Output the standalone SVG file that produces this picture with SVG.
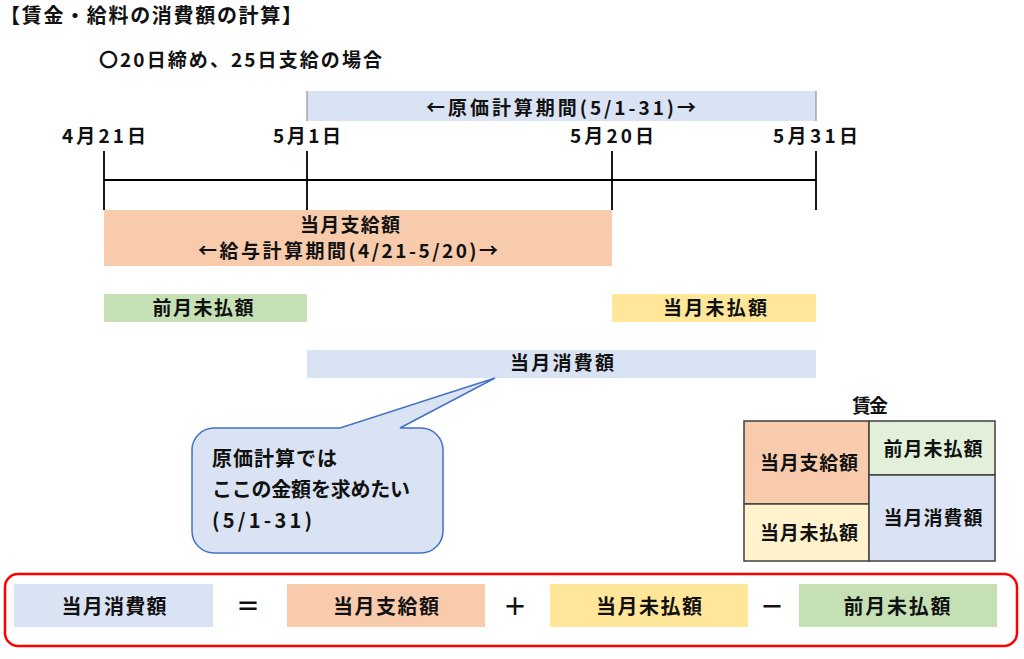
<svg xmlns="http://www.w3.org/2000/svg" width="1024" height="659" viewBox="0 0 1024 659">
<style>
text{font-family:"Noto Sans CJK JP","Noto Sans",sans-serif;font-weight:bold;fill:#111;font-size:19px}
.m{text-anchor:middle}
.blue{fill:#dae3f3}
.orange{fill:#f8cbad}
.green{fill:#c5e0b4}
.yellow{fill:#ffe699}
.cell{stroke:#404040;stroke-width:1.5}
.tl{stroke:#000;stroke-width:1.8;fill:none}
.big{font-size:20px}
.op{font-size:24px}
</style>
<rect width="1024" height="659" fill="#fff"/>
<g id="title">
<text x="0" y="23" class="big" textLength="302" lengthAdjust="spacing">【賃金・給料の消費額の計算】</text>
<text x="99" y="67" textLength="283" lengthAdjust="spacing">〇20日締め、25日支給の場合</text>
</g>
<g id="cost-period">
<rect x="307" y="91" width="509" height="30" class="blue"/>
<line x1="307" y1="91" x2="307" y2="121" stroke="#808080" stroke-width="1"/>
<line x1="816" y1="91" x2="816" y2="121" stroke="#808080" stroke-width="1"/>
<text x="561" y="115" class="m" textLength="270" lengthAdjust="spacing">←原価計算期間(5/1-31)→</text>
</g>
<g id="dates">
<text x="62" y="143" textLength="84" lengthAdjust="spacing">4月21日</text>
<text x="273" y="143" textLength="68" lengthAdjust="spacing">5月1日</text>
<text x="570" y="143" textLength="84" lengthAdjust="spacing">5月20日</text>
<text x="773" y="143" textLength="85" lengthAdjust="spacing">5月31日</text>
</g>
<g id="connectors">
<line class="tl" x1="104" y1="180" x2="816" y2="180"/>
<line class="tl" x1="104" y1="151" x2="104" y2="210"/>
<line class="tl" x1="307" y1="151" x2="307" y2="210"/>
<line class="tl" x1="612" y1="151" x2="612" y2="210"/>
<line class="tl" x1="816" y1="151" x2="816" y2="210"/>
</g>
<g id="pay-amount">
<rect x="104" y="210" width="508" height="56" class="orange"/>
<text x="350" y="232" class="m" textLength="100" lengthAdjust="spacing">当月支給額</text>
<text x="348" y="258" class="m" textLength="300" lengthAdjust="spacing">←給与計算期間(4/21-5/20)→</text>
</g>
<g id="prev-unpaid">
<rect x="104" y="294" width="203" height="28" class="green"/>
<text x="203" y="315" class="m" textLength="101" lengthAdjust="spacing">前月未払額</text>
</g>
<g id="curr-unpaid">
<rect x="612" y="294" width="204" height="28" class="yellow"/>
<text x="715" y="315" class="m" textLength="104" lengthAdjust="spacing">当月未払額</text>
</g>
<g id="consumption">
<rect x="307" y="350" width="509" height="28" class="blue"/>
<text x="562" y="370" class="m" textLength="104" lengthAdjust="spacing">当月消費額</text>
</g>
<g id="callout">
<path d="M214,428 L340,428 L495,378 L400,428 L421,428 A22,22 0 0 1 443,450 L443,531 A22,22 0 0 1 421,553 L214,553 A22,22 0 0 1 192,531 L192,450 A22,22 0 0 1 214,428 Z" fill="#dae3f3" stroke="#4472c4" stroke-width="1.5" stroke-linejoin="miter"/>
<text x="212" y="466" class="big" textLength="125" lengthAdjust="spacing">原価計算では</text>
<text x="212" y="497" class="big" textLength="198" lengthAdjust="spacing">ここの金額を求めたい</text>
<text x="212" y="528" class="big" textLength="100" lengthAdjust="spacing">(5/1-31)</text>
</g>
<g id="wage-account">
<text x="870" y="413" class="m" textLength="36" lengthAdjust="spacing">賃金</text>
<rect x="744" y="421" width="125" height="83" class="cell" fill="#f8cbad"/>
<rect x="744" y="504" width="125" height="57" class="cell" fill="#fff2cc"/>
<rect x="869" y="421" width="126" height="54" class="cell" fill="#e2f0d9"/>
<rect x="869" y="475" width="126" height="86" class="cell" fill="#dae3f3"/>
<text x="809" y="470" class="m" textLength="98" lengthAdjust="spacing">当月支給額</text>
<text x="809" y="540" class="m" textLength="98" lengthAdjust="spacing">当月未払額</text>
<text x="933" y="456" class="m" textLength="99" lengthAdjust="spacing">前月未払額</text>
<text x="933" y="525" class="m" textLength="99" lengthAdjust="spacing">当月消費額</text>
</g>
<g id="formula">
<rect x="5" y="574" width="1012" height="72" rx="13" fill="none" stroke="#ff0000" stroke-width="2.5"/>
<rect x="14" y="584" width="199" height="43" class="blue"/>
<text x="114" y="614" class="m big" textLength="105" lengthAdjust="spacing">当月消費額</text>
<text x="248" y="615" class="m op">＝</text>
<rect x="287" y="584" width="198" height="43" class="orange"/>
<text x="386" y="614" class="m big" textLength="106" lengthAdjust="spacing">当月支給額</text>
<text x="515" y="615" class="m op">＋</text>
<rect x="550" y="584" width="198" height="43" class="yellow"/>
<text x="649" y="614" class="m big" textLength="106" lengthAdjust="spacing">当月未払額</text>
<text x="772" y="615" class="m op">－</text>
<rect x="799" y="584" width="198" height="43" class="green"/>
<text x="897" y="614" class="m big" textLength="107" lengthAdjust="spacing">前月未払額</text>
</g>
</svg>
